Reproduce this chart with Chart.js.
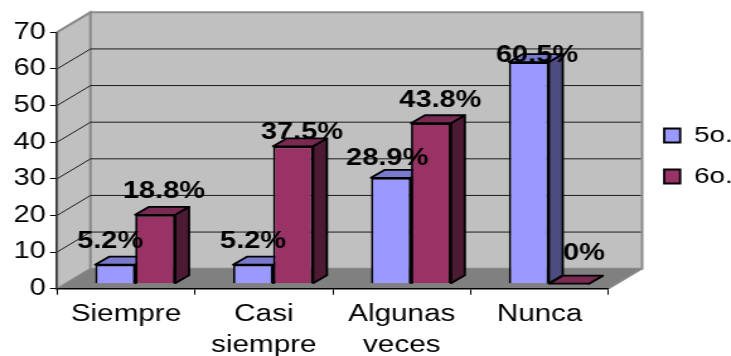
<!DOCTYPE html>
<html>
<head>
<meta charset="utf-8">
<title>Frecuencia por grado</title>
<script src="https://cdn.jsdelivr.net/npm/chart.js@4/dist/chart.umd.min.js"></script>
<style>
    html, body { margin: 0; padding: 0; background: #fff; overflow: hidden; }
    /* the whole chart is drawn narrow and widened, so the lettering comes out wide too */
    #wrap { width: 580px; height: 356px; transform: scaleX(1.2603); transform-origin: 0 0; }
    canvas { display: block; }
</style>
</head>
<body>
<div id="wrap"><canvas id="grafica" width="580" height="356"></canvas></div>
<script>
const categories = ['Siempre', ['Casi', 'siempre'], ['Algunas', 'veces'], 'Nunca'];
const quinto = [5.2, 5.2, 28.9, 60.5];
const sexto = [18.8, 37.5, 43.8, 0];
const seriesNames = ['5o.', '6o.'];
const yTicks = [0, 10, 20, 30, 40, 50, 60, 70];

// Fake 3D box: how far the back wall and each bar recede
const wallDepth = { x: 26.6, y: 20 };
const barDepth = { x: 11, y: 8 };
const barShift = { x: 7.3, y: -5 };

// Where each percentage sits relative to the top centre of its bar
const labelOffsets = [
    [[-4, -17], [0, -17], [-3, -13], [6.5, 0]],
    [[7, -17], [7, -7], [7.5, -16], [12, -24]]
];

const faceColors = [
    { top: '#7a7acc', side: '#4c4c80' },
    { top: '#7a2952', side: '#4d1a33' }
];

function poly(ctx, points, fill, stroke, width) {
    ctx.beginPath();
    points.forEach((p, i) => i ? ctx.lineTo(p[0], p[1]) : ctx.moveTo(p[0], p[1]));
    ctx.closePath();
    if (fill) {
        ctx.fillStyle = fill;
        ctx.fill();
    }
    if (stroke) {
        ctx.strokeStyle = stroke;
        ctx.lineWidth = width;
        ctx.stroke();
    }
}

const box3d = {
    id: 'box3d',
    afterLayout(chart) {
        // legend sits apart from the plot, a little above its middle
        const legend = chart.legend;
        const w = legend.width, h = legend.height;
        legend.left = 508;
        legend.right = legend.left + w;
        legend.top = 156 - h / 2;
        legend.bottom = legend.top + h;
    },
    beforeDraw(chart) {
        const { ctx, chartArea: a, scales: { y } } = chart;
        const dx = wallDepth.x, dy = wallDepth.y;
        ctx.save();
        // side wall, back wall, floor
        poly(ctx, [[a.left, a.top], [a.left + dx, a.top - dy], [a.left + dx, a.bottom - dy], [a.left, a.bottom]], '#c0c0c0', '#8c8c8c', 2);
        poly(ctx, [[a.left + dx, a.top - dy], [a.right + dx, a.top - dy], [a.right + dx, a.bottom - dy], [a.left + dx, a.bottom - dy]], '#c0c0c0', '#8c8c8c', 2);
        poly(ctx, [[a.left, a.bottom], [a.right, a.bottom], [a.right + dx, a.bottom - dy], [a.left + dx, a.bottom - dy]], '#808080', null, 0);
        // grid lines wrap round from the side wall onto the back wall
        ctx.strokeStyle = '#1c1c1c';
        ctx.lineWidth = 1;
        yTicks.slice(1, -1).forEach(v => {
            const py = y.getPixelForValue(v);
            ctx.beginPath();
            ctx.moveTo(a.left, py);
            ctx.lineTo(a.left + dx, py - dy);
            ctx.lineTo(a.right + dx - 1, py - dy);
            ctx.stroke();
        });
        poly(ctx, [[a.right, a.bottom], [a.right + dx, a.bottom - dy]], null, '#8c8c8c', 1.5);
        poly(ctx, [[a.left, a.top], [a.left + dx, a.top - dy]], null, '#8c8c8c', 2);
        ctx.restore();
    },
    beforeDatasetsDraw(chart) {
        const { ctx } = chart;
        ctx.save();
        ctx.translate(barShift.x, barShift.y);
        ctx.lineJoin = 'round';
        // top and side faces go under the front faces the library draws;
        // the 6o. faces come second so they cover the 5o. ones beside them
        chart.data.datasets.forEach((ds, i) => {
            const colors = faceColors[i];
            chart.getDatasetMeta(i).data.forEach(bar => {
                const l = bar.x - bar.width / 2, r = bar.x + bar.width / 2;
                const t = bar.y, b = bar.base;
                const dx = barDepth.x, dy = barDepth.y;
                poly(ctx, [[r, b], [r + dx, b - dy], [r + dx, t - dy], [r, t]], colors.side, '#000', 1.8);
                poly(ctx, [[l, t], [l + dx, t - dy], [r + dx, t - dy], [r, t]], colors.top, '#000', 1.8);
            });
        });
    },
    afterDatasetsDraw(chart) {
        const { ctx } = chart;
        ctx.restore();
        ctx.save();
        ctx.font = 'bold 23px "Liberation Sans", Arial, sans-serif';
        ctx.fillStyle = '#000';
        ctx.textAlign = 'center';
        ctx.textBaseline = 'alphabetic';
        chart.data.datasets.forEach((ds, i) => {
            chart.getDatasetMeta(i).data.forEach((bar, j) => {
                const off = labelOffsets[i][j];
                ctx.fillText(ds.data[j] + '%', bar.x + barShift.x + off[0], bar.y + barShift.y + off[1]);
            });
        });
        ctx.restore();
    }
};

new Chart(document.getElementById('grafica'), {
    type: 'bar',
    data: {
        labels: categories,
        datasets: [
            { label: seriesNames[0], data: quinto, backgroundColor: '#9999ff', borderColor: '#000', borderWidth: 1.8, clip: false },
            { label: seriesNames[1], data: sexto, backgroundColor: '#993366', borderColor: '#000', borderWidth: 1.8, clip: false }
        ]
    },
    options: {
        responsive: false,
        animation: false,
        layout: { padding: { top: 32.3, left: 0, right: 13.8, bottom: 0 } },
        datasets: { bar: { categoryPercentage: 0.58, barPercentage: 1 } },
        scales: {
            x: {
                grid: { drawOnChartArea: false, color: '#000', tickLength: 6 },
                border: { color: '#000', width: 1.5 },
                ticks: {
                    autoSkip: false, maxRotation: 0, minRotation: 0, padding: 3.5, color: '#000',
                    font: { family: '"Liberation Sans", Arial, sans-serif', size: 23.5, lineHeight: 1.35 }
                },
                afterFit(scale) { scale.height = 67.3; }
            },
            y: {
                min: 0,
                max: 70,
                grid: { drawOnChartArea: false, color: '#000', tickLength: 5.5 },
                border: { color: '#333', width: 1.5 },
                afterBuildTicks(scale) { scale.ticks = yTicks.map(value => ({ value })); },
                ticks: {
                    padding: 3.5, color: '#000',
                    font: { family: '"Liberation Sans", Arial, sans-serif', size: 23 }
                },
                afterFit(scale) { scale.width = 45.24; }
            }
        },
        plugins: {
            tooltip: { enabled: false },
            legend: {
                position: 'right',
                fullSize: false,
                labels: {
                    boxWidth: 12.7,
                    boxHeight: 14,
                    padding: 19,
                    color: '#000',
                    font: { family: '"Liberation Sans", Arial, sans-serif', size: 22 }
                }
            }
        }
    },
    plugins: [box3d]
});
</script>
</body>
</html>
